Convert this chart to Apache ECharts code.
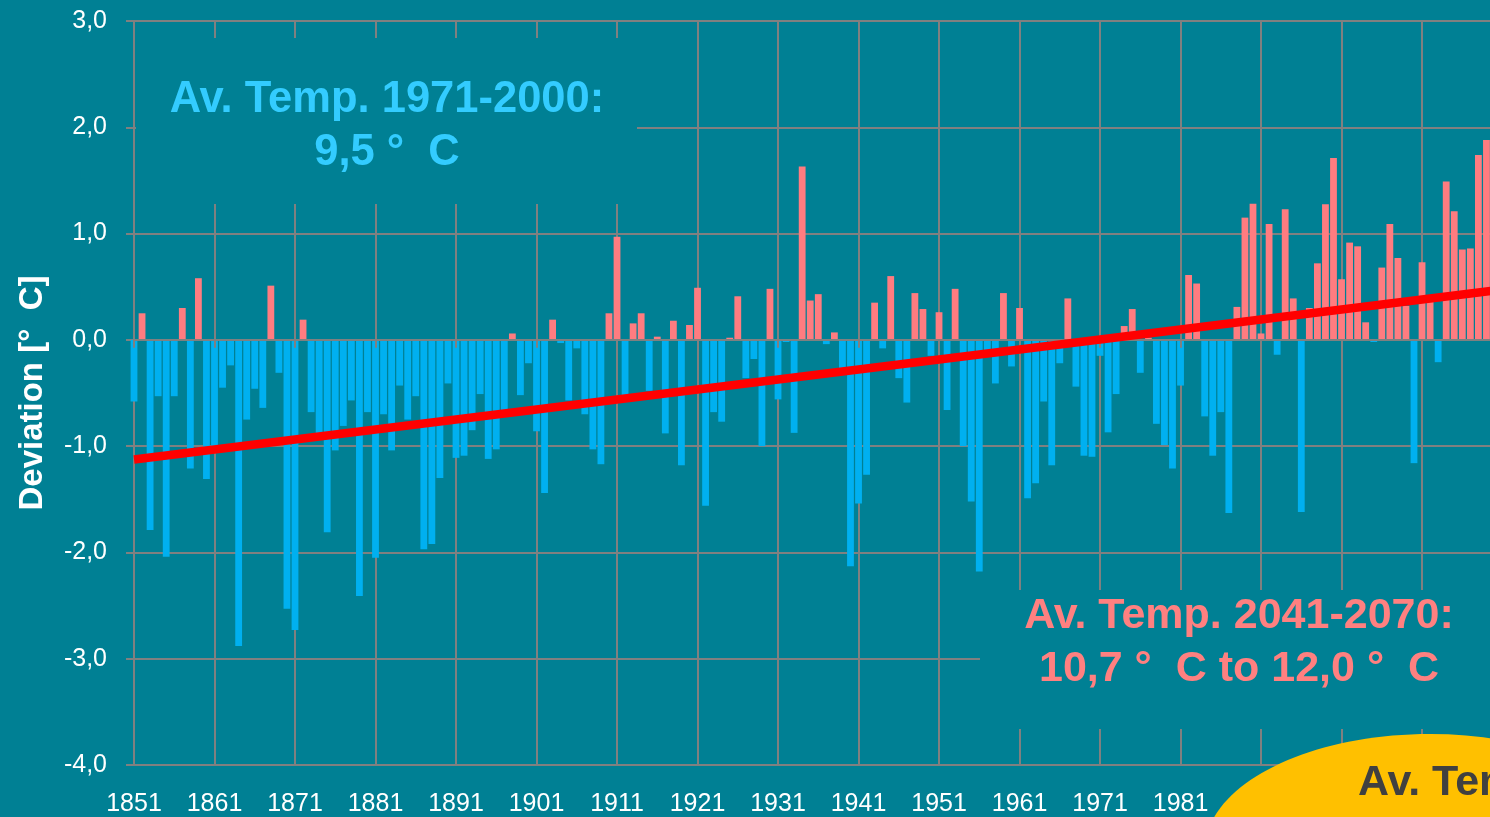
<!DOCTYPE html>
<html>
<head>
<meta charset="utf-8">
<script src="https://cdn.jsdelivr.net/npm/echarts@6/dist/echarts.min.js"></script>
<style>
html,body{margin:0;padding:0;background:#008094;overflow:hidden;width:1490px;height:817px;}
#c{width:1500px;height:817px;}
</style>
</head>
<body>
<div id="c"></div>
<script>
// Years shown on the category axis (1851 .. 2020; 2020 is beyond the cropped edge)
var startYear = 1851;
var years = [];
for (var i = 0; i < 170; i++) { years.push(String(startYear + i)); }

// Temperature deviation from the 1971-2000 average, deg C (1851 .. 2019)
var deviation = [
  -0.58, 0.25, -1.79, -0.53, -2.04, -0.53, 0.30, -1.21, 0.58, -1.31,
  -1.02, -0.45, -0.24, -2.88, -0.75, -0.46, -0.64, 0.51, -0.31, -2.53,
  -2.73, 0.19, -0.68, -0.88, -1.81, -1.04, -0.81, -0.57, -2.41, -0.68,
  -2.05, -0.70, -1.04, -0.43, -0.75, -0.53, -1.97, -1.92, -1.30, -0.41,
  -1.11, -1.09, -0.85, -0.51, -1.12, -1.03, -0.68, 0.06, -0.52, -0.22,
  -0.86, -1.44, 0.19, -0.03, -0.57, -0.08, -0.70, -1.03, -1.17, 0.25,
  0.97, -0.55, 0.155, 0.25, -0.48, 0.03, -0.88, 0.18, -1.18, 0.14,
  0.49, -1.56, -0.68, -0.77, 0.02, 0.41, -0.36, -0.18, -1.00, 0.48,
  -0.56, -0.02, -0.875, 1.63, 0.37, 0.43, -0.04, 0.07, -0.27, -2.13,
  -1.54, -1.27, 0.35, -0.08, 0.60, -0.36, -0.59, 0.44, 0.29, -0.15,
  0.26, -0.66, 0.48, -1.00, -1.52, -2.18, -0.10, -0.41, 0.44, -0.25,
  0.30, -1.49, -1.35, -0.58, -1.18, -0.22, 0.39, -0.44, -1.09, -1.10,
  -0.15, -0.87, -0.51, 0.13, 0.29, -0.31, 0.02, -0.79, -0.99, -1.21,
  -0.43, 0.61, 0.53, -0.72, -1.09, -0.68, -1.63, 0.31, 1.15, 1.28,
  0.06, 1.09, -0.14, 1.23, 0.39, -1.62, 0.30, 0.72, 1.275, 1.71,
  0.57, 0.915, 0.88, 0.165, -0.02, 0.68, 1.09, 0.77, 0.32, -1.16,
  0.73, 0.36, -0.21, 1.49, 1.21, 0.85, 0.86, 1.74, 1.88
];

// Linear trend end points
var trendYears = ['1851', '2020'];
var trendValues = [-1.125, 0.464];

// Y axis ticks
var yMin = -4, yMax = 3, yStep = 1;

var warmer = deviation.map(function (v) { return v >= 0 ? v : null; });
var colder = deviation.map(function (v) { return v < 0 ? v : null; });

var BG = '#008094';
var GRID = '#808080';
var labelFont = '"Liberation Sans", Arial, sans-serif';

var chart = echarts.init(document.getElementById('c'), null, {renderer: 'canvas'});
chart.setOption({
  backgroundColor: BG,
  animation: false,
  grid: {left: 134, top: 21, width: 1360.5, height: 745, containLabel: false},
  xAxis: [
    {
      type: 'category', data: years, boundaryGap: false, position: 'bottom',
      axisLine: {show: true, onZero: false, lineStyle: {color: GRID, width: 2}},
      axisTick: {show: false},
      axisLabel: {interval: 9, color: '#ffffff', fontSize: 25, fontFamily: labelFont, margin: 27},
      splitLine: {show: true, interval: 9, lineStyle: {color: GRID, width: 2}}
    },
    {
      type: 'category', data: years, boundaryGap: false, position: 'bottom', z: 3,
      axisLine: {show: true, onZero: true, onZeroAxisIndex: 0, lineStyle: {color: GRID, width: 2}},
      axisTick: {show: true, interval: 9, length: 8, lineStyle: {color: GRID, width: 2}},
      axisLabel: {show: false},
      splitLine: {show: false}
    }
  ],
  yAxis: {
    type: 'value', min: yMin, max: yMax, interval: yStep,
    name: 'Deviation [°  C]', nameLocation: 'middle', nameRotate: 90, nameGap: 85,
    nameTextStyle: {color: '#ffffff', fontSize: 33, fontWeight: 'bold', fontFamily: '"Liberation Sans Narrow", "Liberation Sans", Arial, sans-serif'},
    axisLine: {show: true, lineStyle: {color: GRID, width: 2}},
    axisTick: {show: true, length: 8, lineStyle: {color: GRID, width: 2}},
    axisLabel: {
      color: '#ffffff', fontSize: 25, fontFamily: labelFont, margin: 27,
      formatter: function (v) { return v.toFixed(1).replace('.', ','); }
    },
    splitLine: {show: true, lineStyle: {color: GRID, width: 2}}
  },
  series: [
    {
      name: 'colder', type: 'bar', data: colder, barWidth: 6.8, barGap: '-100%',
      itemStyle: {color: '#00b0f0'}, clip: true
    },
    {
      name: 'warmer', type: 'bar', data: warmer, barWidth: 6.8, barGap: '-100%',
      itemStyle: {color: '#ff7c80'}, clip: true
    },
    {
      name: 'trend', type: 'line', z: 5, symbol: 'none', clip: true,
      data: [[trendYears[0], trendValues[0]], [trendYears[1], trendValues[1]]],
      lineStyle: {color: '#ff0000', width: 8.5}
    }
  ],
  graphic: [
    {type: 'rect', z: 100, shape: {x: 136, y: 38, width: 501, height: 166}, style: {fill: BG}},
    {type: 'rect', z: 100, shape: {x: 980, y: 590, width: 530, height: 139}, style: {fill: BG}},
    {type: 'text', z: 101, x: 387, y: 126,
      style: {text: 'Av. Temp. 1971-2000:\n9,5 °  C', fill: '#33ccff',
        font: 'bold 43.5px "Liberation Sans", Arial, sans-serif', lineHeight: 53,
        align: 'center', verticalAlign: 'middle', textAlign: 'center', textVerticalAlign: 'middle'}},
    {type: 'text', z: 101, x: 1239, y: 643,
      style: {text: 'Av. Temp. 2041-2070:\n10,7 °  C to 12,0 °  C', fill: '#ff8080',
        font: 'bold 43px "Liberation Sans", Arial, sans-serif', lineHeight: 53,
        align: 'center', verticalAlign: 'middle', textAlign: 'center', textVerticalAlign: 'middle'}},
    {type: 'ellipse', z: 102, shape: {cx: 1430, cy: 850, rx: 225, ry: 116}, style: {fill: '#ffc000'}},
    {type: 'text', z: 103, x: 1358, y: 783,
      style: {text: 'Av. Temp. 2071-2100:', fill: '#404040',
        font: 'bold 43px "Liberation Sans", Arial, sans-serif',
        align: 'left', verticalAlign: 'middle', textAlign: 'left', textVerticalAlign: 'middle'}}
  ]
});
</script>
</body>
</html>
